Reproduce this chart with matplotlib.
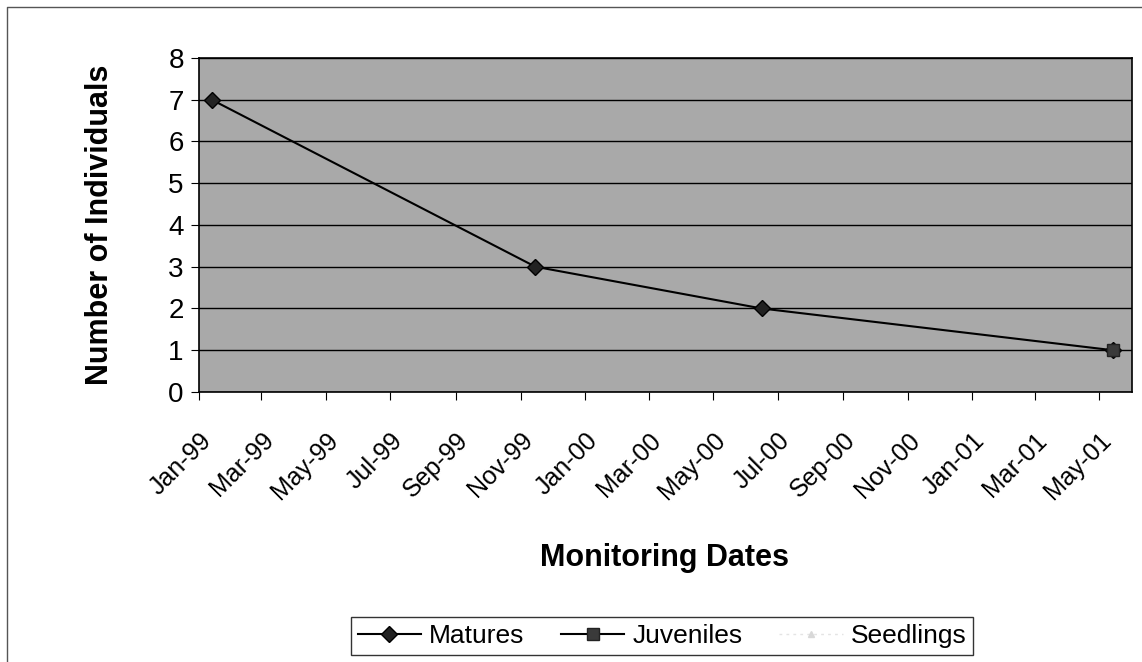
import datetime as dt

import matplotlib
matplotlib.use("Agg")
import matplotlib.pyplot as plt
import matplotlib.dates as mdates
from matplotlib.lines import Line2D

plt.rcParams['font.family'] = ['Liberation Sans', 'DejaVu Sans']

# monitoring data
mature_dates = [dt.date(1999, 1, 13), dt.date(1999, 11, 15),
                dt.date(2000, 6, 16), dt.date(2001, 5, 14)]
mature_counts = [7, 3, 2, 1]
juvenile_dates = [dt.date(2001, 5, 14)]
juvenile_counts = [1]
seedling_dates = []
seedling_counts = []

fig = plt.figure(figsize=(11.42, 6.62), dpi=100)
ax = fig.add_axes([0.1743, 0.4079, 0.8169, 0.5045])

# outer chart border (top and left, the rest is cut off in the scan)
fig.lines.append(Line2D([7 / 1142, 7 / 1142, 1.0], [0.0, 1 - 7 / 662, 1 - 7 / 662],
                        transform=fig.transFigure, color='#555555',
                        linewidth=1.0))

ax.set_facecolor('#a9a9a9')
ax.plot(mature_dates, mature_counts, color='black', linewidth=1.5,
        marker='D', markersize=8, markerfacecolor='#222222',
        markeredgecolor='black', label='Matures', zorder=3)
ax.plot(juvenile_dates, juvenile_counts, color='black', linewidth=1.5,
        marker='s', markersize=9, markerfacecolor='#3a3a3a',
        markeredgecolor='#222222', label='Juveniles', zorder=4)
ax.plot(seedling_dates, seedling_counts, color='#e4e4e4', linewidth=1.0,
        linestyle=(0, (2, 3)), marker='^', markersize=4,
        markerfacecolor='#d8d8d8', markeredgecolor='#d8d8d8',
        label='Seedlings')

ax.set_ylim(0, 8)
ax.set_yticks(range(0, 9))
ax.set_xlim(dt.date(1999, 1, 1), dt.date(2001, 6, 1))
ax.xaxis.set_major_locator(mdates.MonthLocator(bymonth=[1, 3, 5, 7, 9, 11]))
ax.xaxis.set_major_formatter(mdates.DateFormatter('%b-%y'))
ax.grid(axis='y', color='black', linewidth=1.0)
ax.set_axisbelow(True)
for s in ax.spines.values():
    s.set_color('black')
    s.set_linewidth(1.2)

ax.tick_params(axis='y', labelsize=20, length=6, pad=5)
ax.tick_params(axis='x', labelsize=18, length=6, pad=20)
plt.setp(ax.get_xticklabels(), rotation=45, ha='right',
         rotation_mode='anchor')

fig.text(665 / 1142, 1 - 558 / 662, 'Monitoring Dates', ha='center',
         va='center', fontsize=22, fontweight='bold')
fig.text(100 / 1142, 1 - 225 / 662, 'Number of Individuals', ha='center',
         va='center', rotation=90, fontsize=22, fontweight='bold')

leg = fig.legend(loc='center', bbox_to_anchor=(662 / 1142, 1 - 636 / 662),
                 ncol=3, fontsize=19, frameon=True, fancybox=False,
                 handlelength=2.4, columnspacing=1.4, handletextpad=0.3,
                 borderpad=0.25)
leg.get_frame().set_edgecolor('black')
leg.get_frame().set_linewidth(1.0)

fig.savefig('out.png', dpi=100)
